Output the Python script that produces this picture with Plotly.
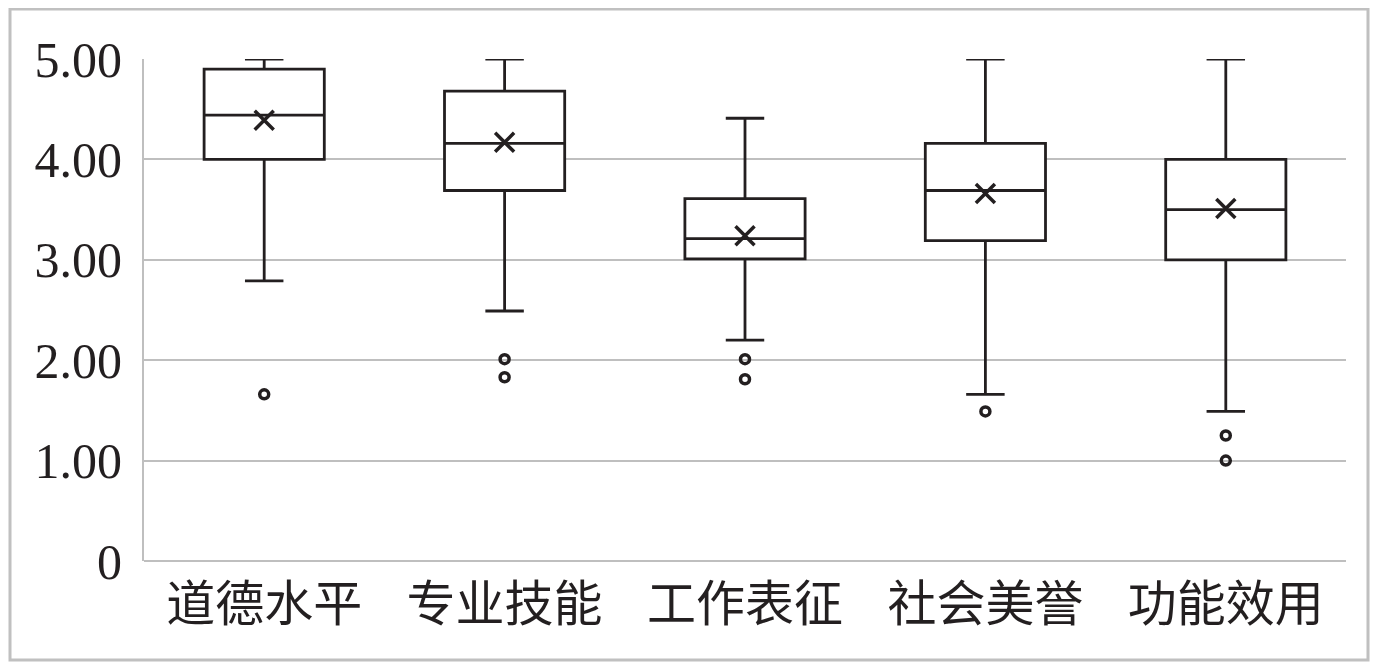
import plotly.graph_objects as go

categories = ["道德水平", "专业技能", "工作表征", "社会美誉", "功能效用"]
upper_whisker = [5.00, 5.00, 4.41, 5.00, 5.00]
q3_values = [4.90, 4.68, 3.61, 4.16, 4.00]
median_values = [4.44, 4.16, 3.21, 3.69, 3.50]
q1_values = [4.00, 3.69, 3.01, 3.19, 3.00]
lower_whisker = [2.79, 2.49, 2.20, 1.66, 1.49]
mean_values = [4.39, 4.17, 3.24, 3.66, 3.51]
outlier_cats = ["道德水平", "专业技能", "专业技能", "工作表征", "工作表征", "社会美誉", "功能效用", "功能效用"]
outlier_values = [1.66, 2.01, 1.83, 2.01, 1.81, 1.49, 1.25, 1.00]
tick_vals = [0, 1, 2, 3, 4, 5]
tick_text = ["0", "1.00", "2.00", "3.00", "4.00", "5.00"]

dark = "#231f20"
grid = "#bfbfbf"

fig = go.Figure()
fig.add_trace(go.Box(
    x=categories, q1=q1_values, median=median_values, q3=q3_values,
    lowerfence=lower_whisker, upperfence=upper_whisker,
    width=0.5, whiskerwidth=0.32, fillcolor="white",
    line=dict(color=dark, width=2.8), boxpoints=False, showlegend=False,
    hoverinfo="skip"))
fig.add_trace(go.Scatter(
    x=categories, y=mean_values, mode="markers", showlegend=False,
    marker=dict(symbol="x-thin", size=19, color=dark, line=dict(color=dark, width=3.5))))
fig.add_trace(go.Scatter(
    x=outlier_cats, y=outlier_values, mode="markers", showlegend=False,
    marker=dict(symbol="circle-open", size=9, color=dark, line=dict(color=dark, width=3.5))))

# page body has an 8px default margin; compensate so the plot lands where intended
fig.update_layout(
    width=1370, height=661,
    margin=dict(l=136, r=32, t=51, b=108),
    paper_bgcolor="white", plot_bgcolor="white",
    font=dict(family="Liberation Serif", color=dark),
    xaxis=dict(type="category", showgrid=False, showline=False, ticks="",
               tickfont=dict(family="Noto Sans CJK SC", size=49, color=dark),
               ticklabelstandoff=10),
    yaxis=dict(range=[0, 5], tickvals=tick_vals, ticktext=tick_text,
               showgrid=True, gridcolor=grid, gridwidth=2,
               zeroline=True, zerolinecolor=grid, zerolinewidth=2,
               showline=True, linecolor=grid, linewidth=2, ticks="",
               tickfont=dict(family="Liberation Serif", size=50, color=dark),
               ticklabelstandoff=10),
    shapes=[dict(type="rect", xref="paper", yref="paper",
                 x0=(10 - 144) / 1202, x1=(1368 - 144) / 1202,
                 y0=(561 - 660) / 502, y1=(561 - 9) / 502,
                 line=dict(color="#c0c0c0", width=3), layer="below")],
)

fig.write_html("out.html")
